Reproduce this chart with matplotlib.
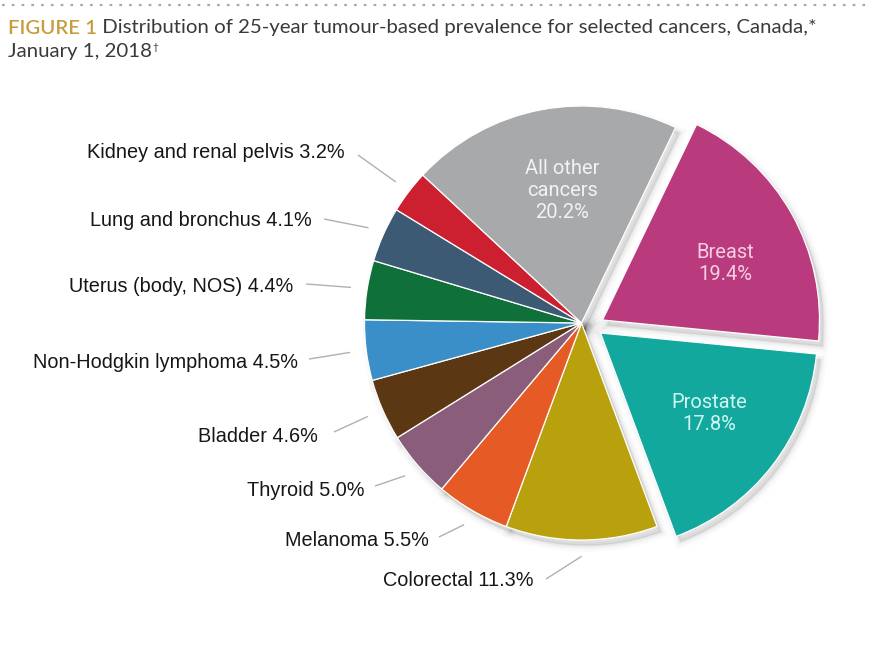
import matplotlib.pyplot as plt
import matplotlib.patches as mpatches
import numpy as np

# data, clockwise from the top-right (Breast)
cancers = ["Breast", "Prostate", "Colorectal", "Melanoma", "Thyroid", "Bladder",
           "Non-Hodgkin lymphoma", "Uterus (body, NOS)", "Lung and bronchus",
           "Kidney and renal pelvis", "All other cancers"]
shares = [19.4, 17.8, 11.3, 5.5, 5.0, 4.6, 4.5, 4.4, 4.1, 3.2, 20.2]
colours = ["#B93B7D", "#12A89D", "#B9A10E", "#E65B25", "#8A5D7A", "#5C3714",
           "#3A8FC8", "#0F7039", "#3D5A75", "#CC1F2F", "#A8A9AB"]

title_tag = "FIGURE 1"
title_rest = " Distribution of 25-year tumour-based prevalence for selected cancers, Canada,*"
title_line2 = "January 1, 2018"

W, H = 871, 662
Y = lambda y: H - y  # pixel rows -> data y

fig = plt.figure(figsize=(W / 100, H / 100), dpi=100)
ax = fig.add_axes([0, 0, 1, 1])

head = ["Lato", "DejaVu Sans"]
narrow = ["Roboto", "DejaVu Sans"]
plain = ["Liberation Sans", "DejaVu Sans"]

cx, cy, R = 581.5, Y(323), 217
wedges, _ = ax.pie(shares, colors=colours, startangle=64.3, counterclock=False,
                   radius=R, center=(cx, cy),
                   wedgeprops=dict(edgecolor="white", linewidth=0.9))

# pull out breast and prostate
shift = {0: (21, 3), 1: (19, -10)}
for i, (dx, dy) in shift.items():
    wedges[i].set_center((cx + dx, cy + dy))

# soft shadow under the pie
for w in wedges:
    for lw, a in [(9, 0.02), (5, 0.03), (2, 0.045)]:
        s = mpatches.Shadow(w, 3, -4, facecolor="black", edgecolor="black",
                            linewidth=lw, alpha=a, zorder=0.5)
        ax.add_patch(s)

ax.set_xlim(0, W)
ax.set_ylim(0, H)
ax.set_aspect("equal")
ax.axis("off")

fig.canvas.draw()
renderer = fig.canvas.get_renderer()


def fit_size(txt, target, family, weight="normal"):
    t = ax.text(0, 0, txt, fontsize=10, family=family, weight=weight)
    w = t.get_window_extent(renderer).width
    t.remove()
    return 10 * target / w


# outer labels
outer = [2, 3, 4, 5, 6, 7, 8, 9]
text_pos = {9: (345, 153), 8: (312, 220), 7: (293, 286), 6: (298, 362),
            5: (318, 436), 4: (364, 491), 3: (429, 541), 2: (533, 581)}
line_end = {9: (358, 155), 8: (324, 219), 7: (306, 284), 6: (309, 359),
            5: (334, 432), 4: (375, 486), 3: (439, 537), 2: (546, 579)}
lab_size = fit_size("Kidney and renal pelvis 3.2%", 257, plain)
for i in outer:
    w = wedges[i]
    mid = np.deg2rad((w.theta1 + w.theta2) / 2)
    r0 = R * 1.075
    x0, y0 = cx + r0 * np.cos(mid), cy + r0 * np.sin(mid)
    x1, y1 = line_end[i]
    ax.plot([x0, x1], [y0, Y(y1)], color="#B0B0B0", lw=1, solid_capstyle="butt")
    tx, ty = text_pos[i]
    ax.text(tx, Y(ty), f"{cancers[i]} {shares[i]:.1f}%", ha="right", va="center",
            fontsize=lab_size, family=plain, color="#161616")

# inner labels
inner_size = fit_size("Prostate", 76, narrow)
ax.text(562, Y(190), f"All other\ncancers\n{shares[10]:.1f}%", ha="center", va="center",
        fontsize=inner_size, family=narrow, color="#F2F2F2", linespacing=1.2)
ax.text(725, Y(263), f"{cancers[0]}\n{shares[0]:.1f}%", ha="center", va="center",
        fontsize=inner_size, family=narrow, color="#F7CDE3", linespacing=1.2)
ax.text(709, Y(414), f"{cancers[1]}\n{shares[1]:.1f}%", ha="center", va="center",
        fontsize=inner_size, family=narrow, color="#CFF6F1", linespacing=1.2)

# title
tsize = fit_size(title_tag + title_rest, 807, head)
t1 = ax.text(8, Y(28), title_tag, fontsize=tsize, family=head, weight="semibold",
             color="#C89B3C", va="center", ha="left")
ax.annotate(title_rest, xy=(1, 0), xycoords=t1, va="bottom", ha="left",
            fontsize=tsize, family=head, color="#3A3A3A")
t3 = ax.text(8, Y(51), title_line2, fontsize=tsize, family=head, color="#3A3A3A",
             va="center", ha="left")
ax.annotate("\u2020", xy=(1, 1), xycoords=t3, va="top", ha="left",
            fontsize=tsize * 0.5, family=head, color="#3A3A3A")

# dotted rule at the top
ax.plot([2, 866], [Y(5), Y(5)], color="#A8A8A8", lw=1.6, ls=(0, (1.2, 3.2)))

fig.savefig("out.png", dpi=100)
